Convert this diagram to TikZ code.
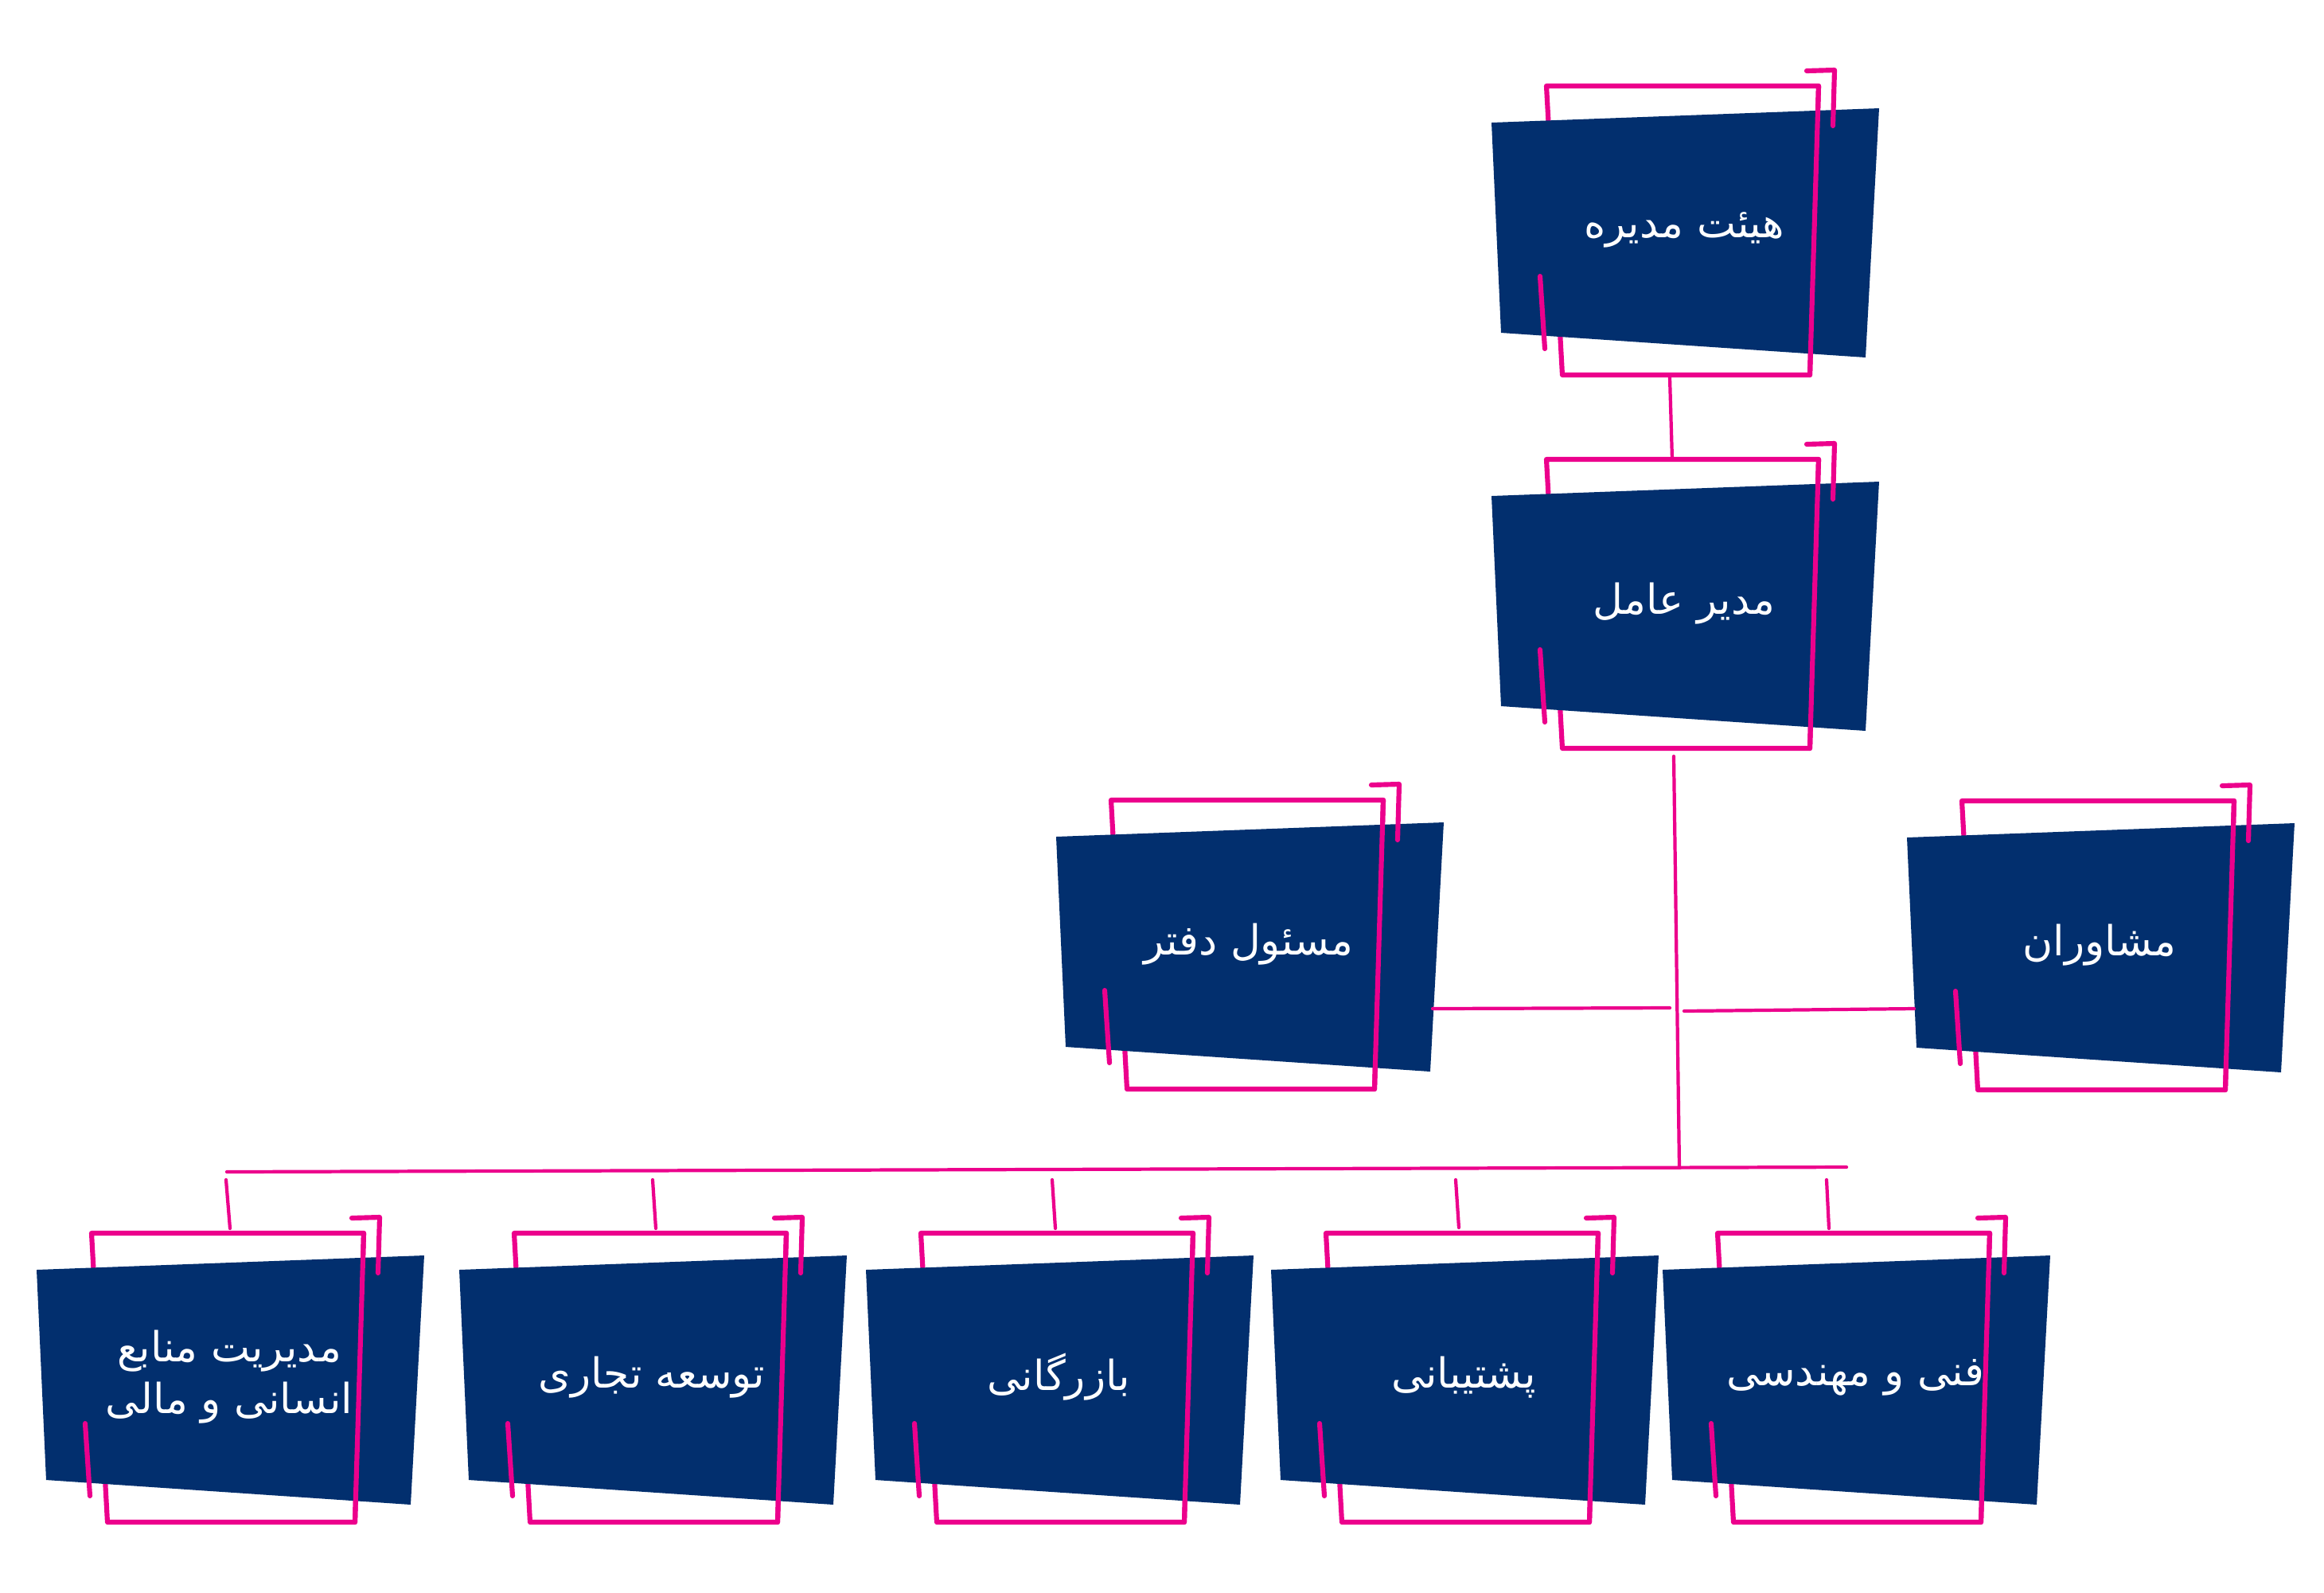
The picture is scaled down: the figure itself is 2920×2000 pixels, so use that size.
\documentclass[tikz,border=0pt]{standalone}
\usepackage{fontspec}
\usepackage{xcolor}
\usepackage{tikz}
\newfontfamily\arabicfont[Script=Arabic]{DejaVu Sans}
\TeXXeTstate=1
\definecolor{cardblue}{HTML}{022F6E}
\definecolor{linepink}{HTML}{EC008C}
\tikzstyle{frameline}=[draw=linepink,line width=1.75pt,line cap=round,line join=round]
\tikzstyle{card}=[fill=cardblue]
\tikzstyle{cardtext}=[text=white,align=center,inner sep=0pt,font=\arabicfont\fontsize{14.8}{18.5}\selectfont]
\tikzstyle{link}=[draw=linepink,line width=1.2pt,line cap=round]
\newcommand\orgcard[4]{%
  \begin{scope}[shift={(#2,#3)}]
    \draw[frameline] (69,-46) -- (411,-46) -- (400,317) -- (89,317) -- cycle;
    \fill[card] (0,0) -- (487,-18) -- (470,295) -- (12,264) -- cycle;
    \draw[frameline] (411,-46) -- (400,317);
    \draw[frameline] (396,-65) -- (431,-66) -- (429,4);
    \draw[frameline] (61,193) -- (67,284);
    \node[cardtext] (#1) at (242,135) {#4};
  \end{scope}}
\begin{document}
\begin{tikzpicture}[x=0.1mm,y=-0.1mm]
	\useasboundingbox (0,0) rectangle (2920,2000);
	\orgcard{board}{1874}{154}{\beginR هیئت مدیره\endR}
	\orgcard{ceo}{1874}{623}{\beginR مدیر عامل\endR}
	\orgcard{office}{1327}{1051}{\beginR مسئول دفتر\endR}
	\orgcard{advisors}{2396}{1052}{\beginR مشاوران\endR}
	\orgcard{hr}{46}{1595}{\beginR مدیریت منابع\endR\\\beginR انسانی و مالی\endR}
	\orgcard{bizdev}{577}{1595}{\beginR توسعه تجاری\endR}
	\orgcard{trade}{1088}{1595}{\beginR بازرگانی\endR}
	\orgcard{support}{1597}{1595}{\beginR پشتیبانی\endR}
	\orgcard{tech}{2089}{1595}{\beginR فنی و مهندسی\endR}
	% connector ends
	\coordinate (board-s) at (2098,474);
	\coordinate (ceo-n) at (2101,577);
	\coordinate (trunk-top) at (2103,950);
	\coordinate (trunk-bot) at (2110,1466);
	\coordinate (office-e) at (1800,1267);
	\coordinate (left-j) at (2098,1266);
	\coordinate (right-j) at (2116,1270);
	\coordinate (advisors-w) at (2405,1267);
	\coordinate (bus-w) at (285,1472);
	\coordinate (bus-e) at (2320,1466);
	\coordinate (hr-up) at (284,1482);   \coordinate (hr-n) at (289,1543);
	\coordinate (bizdev-up) at (820,1482); \coordinate (bizdev-n) at (824,1543);
	\coordinate (trade-up) at (1322,1482); \coordinate (trade-n) at (1326,1543);
	\coordinate (support-up) at (1829,1482); \coordinate (support-n) at (1833,1542);
	\coordinate (tech-up) at (2295,1482); \coordinate (tech-n) at (2298,1543);
	% links
	\draw[link] (board-s) -- (ceo-n);
	\draw[link] (trunk-top) -- (trunk-bot);
	\draw[link] (office-e) -- (left-j);
	\draw[link] (right-j) -- (advisors-w);
	\draw[link] (bus-w) -- (bus-e);
	\draw[link] (hr-up) -- (hr-n);
	\draw[link] (bizdev-up) -- (bizdev-n);
	\draw[link] (trade-up) -- (trade-n);
	\draw[link] (support-up) -- (support-n);
	\draw[link] (tech-up) -- (tech-n);
\end{tikzpicture}
\end{document}
